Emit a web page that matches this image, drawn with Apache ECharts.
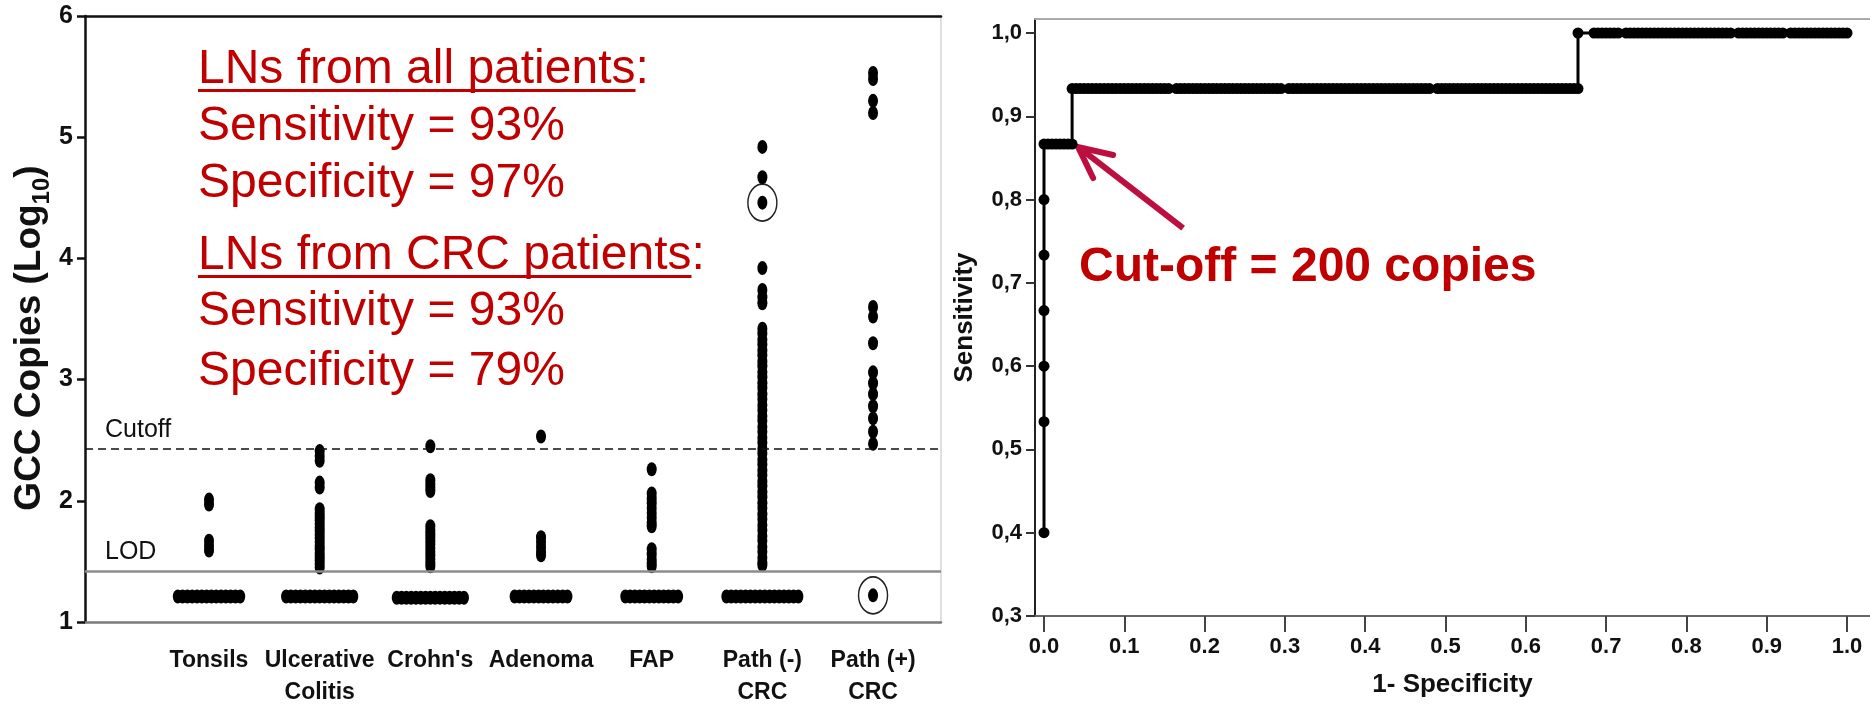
<!DOCTYPE html>
<html>
<head>
<meta charset="utf-8">
<script src="https://cdn.jsdelivr.net/npm/echarts@6/dist/echarts.min.js"></script>
<style>
  html, body { margin: 0; padding: 0; background: #ffffff; }
  #chart { width: 1870px; height: 712px; }
</style>
</head>
<body>
<div id="chart"></div>
<script>
// ---- GCC copies (log10) in lymph nodes, by group ----
const categories = ['Tonsils', 'Ulcerative\nColitis', "Crohn's", 'Adenoma', 'FAP', 'Path (-)\nCRC', 'Path (+)\nCRC'];

// nodes below the limit of detection, plotted on the floor row
const belowLodValues = [1.21, 1.21, 1.20, 1.21, 1.21, 1.21, 1.22];
const belowLodCounts = [14, 15, 15, 12, 12, 16, 1];

// detected nodes
const tonsils = [2.01, 1.97, 1.67, 1.63, 1.59];
const ulcerativeColitis = [2.41, 2.37, 2.33, 2.15, 2.11, 1.93, 1.90, 1.87, 1.84, 1.81, 1.78, 1.75, 1.72, 1.69,
  1.66, 1.63, 1.60, 1.57, 1.54, 1.51, 1.48, 1.45];
const crohns = [2.45, 2.17, 2.14, 2.11, 2.08, 1.79, 1.76, 1.73, 1.70, 1.67, 1.64, 1.61, 1.58, 1.55, 1.52, 1.49, 1.46];
const adenoma = [2.53, 1.70, 1.66, 1.62, 1.58, 1.55];
const fap = [2.26, 2.06, 2.02, 1.98, 1.94, 1.90, 1.86, 1.82, 1.79, 1.60, 1.56, 1.52, 1.49, 1.46];
const pathNegCrc = [4.92, 4.67, 4.46, 3.92, 3.74, 3.68, 3.63,
  3.42, 3.38, 3.33, 3.29, 3.24, 3.20, 3.15, 3.11, 3.06, 3.02, 2.97, 2.93, 2.88, 2.84, 2.79, 2.75,
  2.70, 2.66, 2.61, 2.57, 2.52, 2.48, 2.43, 2.39, 2.34, 2.30, 2.25, 2.21, 2.16, 2.12, 2.07, 2.03,
  1.98, 1.94, 1.89, 1.85, 1.80, 1.76, 1.71, 1.67, 1.62, 1.58, 1.53, 1.49, 1.47];
const pathPosCrc = [5.53, 5.48, 5.30, 5.20, 3.60, 3.52, 3.30, 3.06, 2.97, 2.88, 2.78, 2.68, 2.57, 2.47];

// highlighted nodes (group number 1..7, value)
const circledGroups = [6, 7];
const circledValues = [4.46, 1.22];

const cutoffValue = 2.43;
const lodValue = 1.42;

// ---- ROC curve: counts of false / true positives per threshold ----
const negativeTotal = 200;
const positiveTotal = 15;
const rocTpAtZeroFp = [6, 8, 9, 10, 11, 12];
const rocTpLevels = [13, 14, 15];
const rocFp13 = [0, 1, 2, 3, 4, 5, 6, 7];
const rocFp14 = [7, 8, 9, 10, 11, 12, 13, 14, 15, 16, 17, 18, 19, 20, 21, 22, 23, 24, 25, 26,
  27, 28, 29, 30, 31, 33, 34, 35, 36, 37, 38, 39, 40, 41, 42, 43, 44, 45, 46, 47,
  48, 49, 50, 51, 52, 53, 54, 55, 56, 57, 58, 59, 61, 62, 63, 64, 65, 66, 67, 68,
  69, 70, 71, 72, 73, 74, 75, 76, 77, 78, 79, 80, 81, 82, 83, 84, 85, 86, 87, 88,
  89, 90, 91, 92, 93, 94, 95, 96, 98, 99, 100, 101, 102, 103, 104, 105, 106, 107, 108, 109,
  110, 111, 112, 113, 114, 115, 116, 117, 118, 119, 120, 121, 122, 123, 124, 125, 126, 127, 128, 129,
  130, 131, 132, 133];
const rocFp15 = [133, 137, 138, 139, 140, 141, 142, 143, 145, 146, 147, 148, 149, 150, 151, 152, 153, 154, 155, 156,
  157, 158, 159, 160, 161, 162, 163, 164, 165, 166, 167, 168, 169, 170, 171, 173, 174, 175, 176, 177,
  178, 179, 180, 181, 182, 183, 184, 186, 187, 188, 189, 190, 191, 192, 193, 194, 195, 196, 197, 198,
  199, 200];
const rocCutoffPoint = [7, 13]; // 200 copies: false positives, true positives

const rocXTicks = [0, 0.1, 0.2, 0.3, 0.4, 0.5, 0.6, 0.7, 0.8, 0.9, 1.0];
const rocYTicks = [0.3, 0.4, 0.5, 0.6, 0.7, 0.8, 0.9, 1.0];

// ---- fonts & colours ----
const SANS = "'Liberation Sans', Arial, Helvetica, sans-serif";
const RED = '#C00000';
const ARROW = '#BC0F40';

// horizontal spacing (axis units) between tied points in a group
const SWARM_STEP = 0.0434;

function swarmPoints(values, pos) {
  const total = {};
  values.forEach(v => { total[v] = (total[v] || 0) + 1; });
  const used = {};
  return values.map(v => {
    const k = used[v] = (used[v] === undefined ? 0 : used[v] + 1);
    return [pos + (k - (total[v] - 1) / 2) * SWARM_STEP, v];
  });
}

const groupValues = [tonsils, ulcerativeColitis, crohns, adenoma, fap, pathNegCrc, pathPosCrc];
const dotData = [];
groupValues.forEach((vals, i) => {
  const floorRow = new Array(belowLodCounts[i]).fill(belowLodValues[i]);
  swarmPoints(vals.concat(floorRow), i + 1).forEach(p => dotData.push(p));
});
const circledData = circledGroups.map((g, i) => [g, circledValues[i]]);

const rocData = rocTpAtZeroFp.map(tp => [0, tp / positiveTotal]);
[rocFp13, rocFp14, rocFp15].forEach((run, r) => {
  run.forEach(fp => rocData.push([fp / negativeTotal, rocTpLevels[r] / positiveTotal]));
});

const LEFT_X_MIN = -0.1205, LEFT_X_MAX = 7.614;
const ROC_X_MIN = -0.01121, ROC_X_MAX = 1.02864;

const chart = echarts.init(document.getElementById('chart'), null, { renderer: 'canvas' });

const option = {
  animation: false,
  backgroundColor: '#ffffff',
  grid: [
    { left: 85, top: 16, width: 856, height: 606 },
    { left: 1035, top: 19, width: 835, height: 597 }
  ],
  xAxis: [
    {
      gridIndex: 0, type: 'value', min: LEFT_X_MIN, max: LEFT_X_MAX, position: 'bottom',
      axisLine: { show: true, onZero: false, lineStyle: { color: '#7a7a7a', width: 2.5 } },
      axisTick: { show: false }, splitLine: { show: false },
      axisLabel: {
        customValues: [1, 2, 3, 4, 5, 6, 7], showMinLabel: true, showMaxLabel: true, hideOverlap: false,
        formatter: v => categories[Math.round(v) - 1],
        fontFamily: SANS, fontWeight: 'bold', fontSize: 23, lineHeight: 32, color: '#111', margin: 23
      }
    },
    {
      gridIndex: 0, type: 'value', min: LEFT_X_MIN, max: LEFT_X_MAX, position: 'top',
      axisLine: { show: true, onZero: false, lineStyle: { color: '#111', width: 2.5 } },
      axisTick: { show: false }, axisLabel: { show: false }, splitLine: { show: false }
    },
    {
      gridIndex: 1, type: 'value', min: ROC_X_MIN, max: ROC_X_MAX, position: 'bottom',
      axisLine: { show: true, onZero: false, lineStyle: { color: '#666', width: 2 } },
      axisTick: { show: true, customValues: rocXTicks, length: 16, lineStyle: { color: '#444', width: 2 } },
      axisLabel: {
        customValues: rocXTicks, showMinLabel: true, showMaxLabel: true, formatter: v => v.toFixed(1),
        fontFamily: SANS, fontWeight: 'bold', fontSize: 22, color: '#111', margin: 20
      },
      splitLine: { show: false },
      name: '1- Specificity', nameLocation: 'middle', nameGap: 56,
      nameTextStyle: { fontFamily: SANS, fontWeight: 'bold', fontSize: 26, color: '#111' }
    },
    {
      gridIndex: 1, type: 'value', min: ROC_X_MIN, max: ROC_X_MAX, position: 'top',
      axisLine: { show: true, onZero: false, lineStyle: { color: '#aaa', width: 2 } },
      axisTick: { show: false }, axisLabel: { show: false }, splitLine: { show: false }
    }
  ],
  yAxis: [
    {
      gridIndex: 0, type: 'value', min: 1, max: 6, interval: 1,
      axisLine: { show: true, onZero: false, lineStyle: { color: '#111', width: 2.5 } },
      axisTick: { show: true, length: 8, lineStyle: { color: '#111', width: 2.5 } },
      axisLabel: { fontFamily: SANS, fontWeight: 'bold', fontSize: 25, color: '#111', margin: 12,
        padding: [10, 0, 0, 0], showMinLabel: true, showMaxLabel: true },
      splitLine: { show: false },
      name: '{a|GCC Copies (Log}{s|10}{a|)}', nameLocation: 'middle', nameGap: 31, nameRotate: 90,
      nameTextStyle: {
        padding: [0, 38, 0, 0],
        rich: {
          a: { fontFamily: SANS, fontWeight: 'bold', fontSize: 37, color: '#111', lineHeight: 48, verticalAlign: 'middle' },
          s: { fontFamily: SANS, fontWeight: 'bold', fontSize: 24, color: '#111', lineHeight: 48, verticalAlign: 'bottom' }
        }
      }
    },
    {
      gridIndex: 0, type: 'value', min: 1, max: 6, position: 'right',
      axisLine: { show: true, onZero: false, lineStyle: { color: '#d4d4d4', width: 1.5 } },
      axisTick: { show: false }, axisLabel: { show: false }, splitLine: { show: false }
    },
    {
      gridIndex: 1, type: 'value', min: 0.3, max: 1.0168,
      axisLine: { show: true, onZero: false, lineStyle: { color: '#222', width: 2 } },
      axisTick: { show: true, customValues: rocYTicks, length: 9, lineStyle: { color: '#333', width: 2 } },
      axisLabel: {
        customValues: rocYTicks, showMinLabel: true, showMaxLabel: true,
        formatter: v => v.toFixed(1).replace('.', ','),
        fontFamily: SANS, fontWeight: 'bold', fontSize: 22, color: '#111', margin: 13
      },
      splitLine: { show: false },
      name: 'Sensitivity', nameLocation: 'middle', nameGap: 57,
      nameTextStyle: { fontFamily: SANS, fontWeight: 'bold', fontSize: 26, color: '#111' }
    }
  ],
  series: [
    {
      name: 'GCC copies', type: 'scatter', xAxisIndex: 0, yAxisIndex: 0,
      data: dotData, symbol: 'circle', symbolSize: [10, 14],
      itemStyle: { color: '#000', opacity: 1 }, emphasis: { disabled: true }, silent: true,
      markLine: {
        silent: true, symbol: ['none', 'none'], animation: false,
        data: [
          {
            yAxis: cutoffValue,
            lineStyle: { type: [8, 5], color: '#111', width: 1.6 },
            label: { show: true, formatter: 'Cutoff', position: 'insideStartTop', distance: [20, 6],
              fontFamily: SANS, fontSize: 25, color: '#111' }
          },
          {
            yAxis: lodValue,
            lineStyle: { type: 'solid', color: '#8c8c8c', width: 2.5 },
            label: { show: true, formatter: 'LOD', position: 'insideStartTop', distance: [20, 6],
              fontFamily: SANS, fontSize: 25, color: '#111' }
          }
        ]
      }
    },
    {
      name: 'highlighted', type: 'scatter', xAxisIndex: 0, yAxisIndex: 0,
      data: circledData, symbol: 'circle', symbolSize: [29, 37],
      itemStyle: { color: 'rgba(0,0,0,0)', borderColor: '#222', borderWidth: 1.6, opacity: 1 },
      emphasis: { disabled: true }, silent: true, z: 1
    },
    {
      name: 'ROC', type: 'line', xAxisIndex: 2, yAxisIndex: 2,
      data: rocData, symbol: 'circle', symbolSize: 11, showSymbol: true, showAllSymbol: true,
      lineStyle: { color: '#000', width: 3 }, itemStyle: { color: '#000', opacity: 1 },
      emphasis: { disabled: true }, silent: true
    }
  ]
};
chart.setOption(option);

// ---- text annotations ----
const REG48 = "48px " + SANS;
const BOLD48 = "bold 48px " + SANS;
const measure = document.createElement('canvas').getContext('2d');
function textWidth(str, font) { measure.font = font; return measure.measureText(str).width; }

const noteLines = [
  { text: 'LNs from all patients:', underline: 'LNs from all patients', y: 46 },
  { text: 'Sensitivity = 93%', y: 103 },
  { text: 'Specificity = 97%', y: 160 },
  { text: 'LNs from CRC patients:', underline: 'LNs from CRC patients', y: 232 },
  { text: 'Sensitivity = 93%', y: 288 },
  { text: 'Specificity = 79%', y: 348 }
];
const NOTE_X = 198;
const graphics = [];
noteLines.forEach(l => {
  graphics.push({
    type: 'text', x: NOTE_X, y: l.y, silent: true,
    style: { text: l.text, font: REG48, fill: RED, align: 'left', verticalAlign: 'top' }
  });
  if (l.underline) {
    graphics.push({
      type: 'rect', silent: true,
      shape: { x: NOTE_X, y: l.y + 43, width: textWidth(l.underline, REG48), height: 3 },
      style: { fill: RED }
    });
  }
});

// arrow pointing at the 200-copy cut-off on the ROC curve
const tip = chart.convertToPixel({ xAxisIndex: 2, yAxisIndex: 2 },
  [rocCutoffPoint[0] / negativeTotal, rocCutoffPoint[1] / positiveTotal]);
const tx = tip[0] + 6, ty = tip[1] + 3;
graphics.push({
  type: 'line', silent: true,
  shape: { x1: tx + 3, y1: ty + 2, x2: tx + 105, y2: ty + 81 },
  style: { stroke: ARROW, lineWidth: 6, lineCap: 'butt' }
});
graphics.push({
  type: 'polyline', silent: true,
  shape: { points: [[tx + 35, ty + 8], [tx, ty], [tx + 15, ty + 31]] },
  style: { stroke: ARROW, lineWidth: 6, fill: null, lineJoin: 'miter', lineCap: 'round' }
});
graphics.push({
  type: 'text', x: 1079, y: 244, silent: true,
  style: { text: 'Cut-off = 200 copies', font: BOLD48, fill: RED, align: 'left', verticalAlign: 'top' }
});

chart.setOption({ graphic: graphics });
</script>
</body>
</html>
